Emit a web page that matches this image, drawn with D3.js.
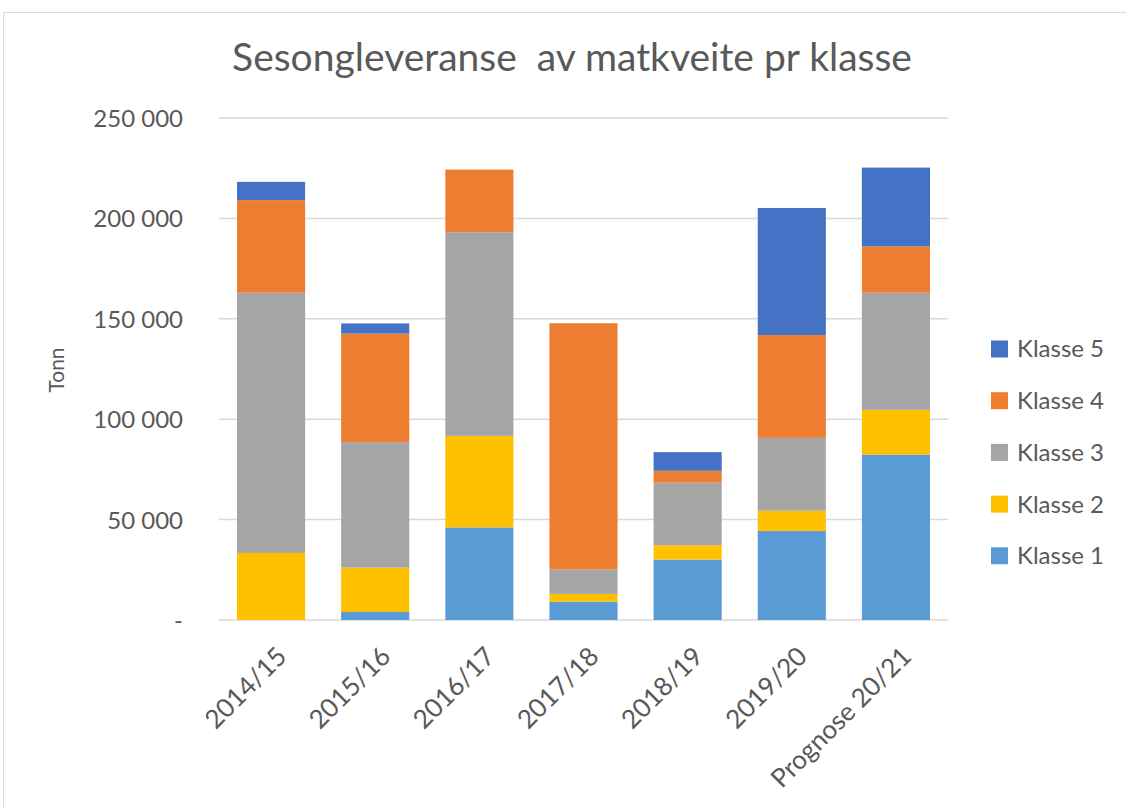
<!DOCTYPE html>
<html>
<head>
<meta charset="utf-8">
<script src="https://cdn.jsdelivr.net/npm/d3@7"></script>
<style>
  html, body { margin: 0; padding: 0; background: #fff; }
  svg { display: block; font-family: Lato, "Open Sans", sans-serif; }
</style>
</head>
<body>
<div id="chart"></div>
<script>
// Data (tonn)
const categories = ["2014/15", "2015/16", "2016/17", "2017/18", "2018/19", "2019/20", "Prognose 20/21"];
const klasse1 = [0, 4000, 46100, 9100, 30100, 44300, 82400];
const klasse2 = [33400, 22100, 45600, 3900, 7100, 10100, 22300];
const klasse3 = [129600, 62500, 101400, 12200, 31200, 36300, 58300];
const klasse4 = [46100, 54000, 31200, 122600, 5900, 51200, 23100];
const klasse5 = [9100, 5100, 0, 0, 9300, 63300, 39200];
const seriesNames = ["Klasse 1", "Klasse 2", "Klasse 3", "Klasse 4", "Klasse 5"];
const seriesColors = ["#5B9BD5", "#FFC000", "#A5A5A5", "#ED7D31", "#4472C4"];
const yTicks = [0, 50000, 100000, 150000, 200000, 250000];

const width = 1126, height = 807;
const margin = { top: 118, right: 178, bottom: 187, left: 219 };
const textColor = "#595959";
const fontFam = 'Lato, "Open Sans", sans-serif';

const svg = d3.select("#chart").append("svg")
  .attr("width", width)
  .attr("height", height);

// chart frame
svg.append("rect")
  .attr("x", 3.5).attr("y", 12.5)
  .attr("width", width + 20).attr("height", height + 20)
  .attr("fill", "none").attr("stroke", "#d9d9d9").attr("stroke-width", 1);

// Build the table for the stack
const allSeries = [klasse1, klasse2, klasse3, klasse4, klasse5];
const table = categories.map((c, i) => {
  const row = { cat: c };
  seriesNames.forEach((s, j) => row[s] = allSeries[j][i]);
  return row;
});
const stacked = d3.stack().keys(seriesNames)(table);

const x = d3.scaleBand()
  .domain(categories)
  .range([margin.left, width - margin.right])
  .paddingInner(0.346)
  .paddingOuter(0.173);

const y = d3.scaleLinear()
  .domain([0, 250000])
  .range([height - margin.bottom, margin.top]);

// gridlines
svg.append("g")
  .selectAll("line")
  .data(yTicks)
  .join("line")
  .attr("x1", margin.left).attr("x2", width - margin.right)
  .attr("y1", d => y(d)).attr("y2", d => y(d))
  .attr("stroke", "#d9d9d9").attr("stroke-width", 1.5);

// y axis labels, space as thousands separator, zero as "-"
const fmt = d => d === 0 ? "-" : d3.format(",")(d).replace(/,/g, " ");
const yAxis = d3.axisLeft(y).tickValues(yTicks).tickFormat(fmt).tickSize(0).tickPadding(0);
const yg = svg.append("g")
  .attr("transform", `translate(${183},0)`)
  .call(yAxis)
  .attr("font-family", fontFam);
yg.select(".domain").remove();
yg.selectAll("text")
  .attr("fill", textColor)
  .style("font-size", "24px")
  .attr("dy", "0.35em");

// y axis title
svg.append("text")
  .attr("transform", `translate(64,${370}) rotate(-90)`)
  .attr("text-anchor", "middle")
  .attr("fill", textColor)
  .style("font-size", "21px")
  .text("Tonn");

// bars
svg.append("g")
  .selectAll("g")
  .data(stacked)
  .join("g")
  .attr("fill", (d, i) => seriesColors[i])
  .selectAll("rect")
  .data(d => d)
  .join("rect")
  .attr("x", d => x(d.data.cat))
  .attr("width", x.bandwidth())
  .attr("y", d => y(d[1]))
  .attr("height", d => y(d[0]) - y(d[1]));

// x axis labels
const xAxis = d3.axisBottom(x).tickSize(0).tickPadding(0);
const xg = svg.append("g")
  .attr("transform", `translate(0,${height - margin.bottom})`)
  .call(xAxis)
  .attr("font-family", fontFam);
xg.select(".domain").remove();
xg.selectAll("text")
  .attr("fill", textColor)
  .style("font-size", "26px")
  .attr("text-anchor", "end")
  .attr("dy", 0)
  .attr("y", 0)
  .attr("transform", "translate(17,38) rotate(-45)");

// title
const title = svg.append("text")
  .attr("x", 572).attr("y", 71)
  .attr("text-anchor", "middle")
  .attr("fill", textColor)
  .style("font-size", "33px")
  .attr("xml:space", "preserve")
  .text("Sesongleveranse  av matkveite pr klasse");
const tw = title.node().getComputedTextLength();
title.style("font-size", (33 * 680 / tw) + "px");

// legend (Klasse 5 on top)
const legendItems = seriesNames.map((n, i) => ({ name: n, color: seriesColors[i] })).reverse();
const lg = svg.append("g")
  .selectAll("g")
  .data(legendItems)
  .join("g")
  .attr("transform", (d, i) => `translate(991,${349 + i * 51.7})`);
lg.append("rect")
  .attr("x", 0).attr("y", -8.5)
  .attr("width", 17).attr("height", 17)
  .attr("fill", d => d.color);
lg.append("text")
  .attr("x", 26).attr("y", 0).attr("dy", "0.35em")
  .attr("fill", textColor)
  .style("font-size", "24px")
  .text(d => d.name);
</script>
</body>
</html>
